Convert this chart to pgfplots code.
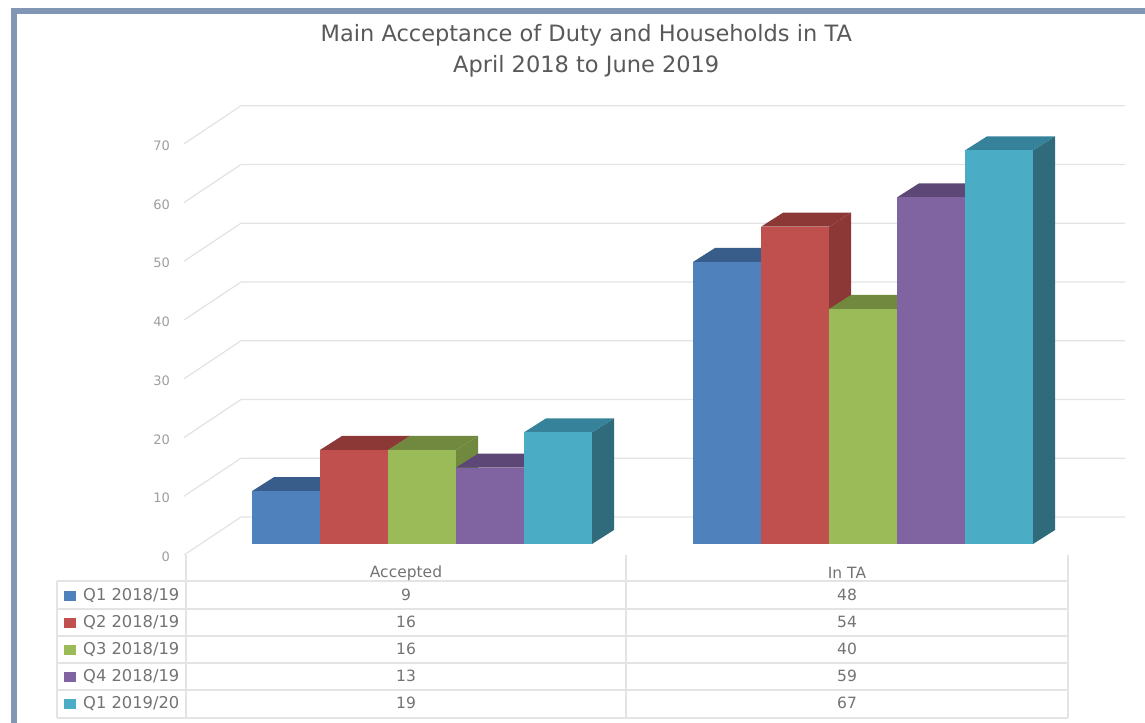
\documentclass[border=0pt]{standalone}
\usepackage{fontspec}
\setmainfont{DejaVu Sans}
\usepackage{pgfplots}
\pgfplotsset{compat=1.18}
\definecolor{cblue}{HTML}{4F81BD}\definecolor{cbluet}{HTML}{385D8A}
\definecolor{cred}{HTML}{C0504D}\definecolor{credt}{HTML}{8C3836}
\definecolor{cgreen}{HTML}{9BBB59}\definecolor{cgreent}{HTML}{71893F}
\definecolor{cpurple}{HTML}{8064A2}\definecolor{cpurplet}{HTML}{5C4776}
\definecolor{cteal}{HTML}{4BACC6}\definecolor{ctealt}{HTML}{35829A}\definecolor{cteals}{HTML}{2F6B7B}
\definecolor{gridc}{HTML}{E4E4E4}
\definecolor{framec}{HTML}{8096B4}
% x (left edge, px), value, front colour, top colour, side colour
\newcommand{\threedbar}[5]{%
  \pgfmathsetmacro\xr{#1+68}\pgfmathsetmacro\xbl{#1+22}\pgfmathsetmacro\xbr{#1+90}%
  \pgfmathsetmacro\yb{#2+2.383}%
  \addplot[draw=none,fill=#5] coordinates {(\xr,0) (\xbr,2.383) (\xbr,\yb) (\xr,#2)} -- cycle;
  \addplot[draw=none,fill=#4] coordinates {(#1,#2) (\xbl,\yb) (\xbr,\yb) (\xr,#2)} -- cycle;
  \addplot[draw=none,fill=#3] coordinates {(#1,0) (\xr,0) (\xr,#2) (#1,#2)} -- cycle;
}
\newcommand{\wallline}[1]{%
  \pgfmathsetmacro\yf{#1-1.87}\pgfmathsetmacro\yk{#1+4.6}%
  \addplot[gridc,line width=1.3pt] coordinates {(184,\yf) (241,\yk) (1125,\yk)};
}
\begin{document}
\begin{tikzpicture}
\begin{axis}[
  at={(0pt,0pt)},anchor=south west,
  scale only axis,width=1145pt,height=723pt,
  xmin=0,xmax=1145,ymin=-30.468,ymax=92.596,
  clip=false,axis line style={draw=none},
  xtick=\empty,ytick=\empty,
  title={Main Acceptance of Duty and Households in TA\\April 2018 to June 2019},
  title style={at={(0.512,0.9588)},anchor=north,align=center,inner sep=0pt,
    font=\fontsize{22.5}{31}\selectfont,text=black!65},
]
\wallline{0}\wallline{10}\wallline{20}\wallline{30}\wallline{40}\wallline{50}\wallline{60}\wallline{70}
% Accepted
\threedbar{252}{9}{cblue}{cbluet}{cbluet}
\threedbar{320}{16}{cred}{credt}{credt}
\threedbar{388}{16}{cgreen}{cgreent}{cgreent}
\threedbar{456}{13}{cpurple}{cpurplet}{cpurplet}
\threedbar{524}{19}{cteal}{ctealt}{cteals}
% In TA
\threedbar{693}{48}{cblue}{cbluet}{cbluet}
\threedbar{761}{54}{cred}{credt}{credt}
\threedbar{829}{40}{cgreen}{cgreent}{cgreent}
\threedbar{897}{59}{cpurple}{cpurplet}{cpurplet}
\threedbar{965}{67}{cteal}{ctealt}{cteals}
\end{axis}
% value axis labels
\begin{axis}[
  at={(170pt,0pt)},anchor=south west,
  scale only axis,width=975pt,height=723pt,
  xmin=0,xmax=1,ymin=-28.26,ymax=94.81,
  axis line style={draw=none},
  xtick=\empty,ytick={0,10,...,70},
  major tick length=0pt,tick style={draw=none},
  yticklabel style={font=\fontsize{13}{15}\selectfont,text=black!38,inner sep=0pt,outer sep=0pt},
  /pgf/number format/assume math mode=true,
]
\end{axis}
\begin{scope}[x=1pt,y=-1pt,yshift=723pt]
  % frame
  \fill[framec] (11,8) rectangle (1145,14);
  \fill[framec] (11,8) rectangle (17,723);
  % table
  \foreach \y in {581,609,636,663,690,718}
    \draw[gridc,line width=1.3pt] (57,\y) -- (1068,\y);
  \draw[gridc,line width=1.3pt] (57,581) -- (57,718);
  \foreach \x in {186,626,1068}
    \draw[gridc,line width=1.3pt] (\x,555) -- (\x,718);
  \tikzset{tt/.style={font=\fontsize{15.5}{17}\selectfont,text=black!55,inner sep=0pt,anchor=center},
           ll/.style={font=\fontsize{16.3}{18}\selectfont,text=black!55,inner sep=0pt,anchor=west}}
  \node[tt] at (406,573) {Accepted};
  \node[tt] at (847,573) {In TA};
  \node[ll] at (64,596) {\textcolor{cblue}{\rule{12pt}{10pt}}\hspace{7pt}Q1 2018/19};
  \node[ll] at (64,623) {\textcolor{cred}{\rule{12pt}{10pt}}\hspace{7pt}Q2 2018/19};
  \node[ll] at (64,650) {\textcolor{cgreen}{\rule{12pt}{10pt}}\hspace{7pt}Q3 2018/19};
  \node[ll] at (64,677) {\textcolor{cpurple}{\rule{12pt}{10pt}}\hspace{7pt}Q4 2018/19};
  \node[ll] at (64,704) {\textcolor{cteal}{\rule{12pt}{10pt}}\hspace{7pt}Q1 2019/20};
  \foreach \y/\a/\b in {595/9/48,622/16/54,649/16/40,676/13/59,703/19/67}{
    \node[tt] at (406,\y) {\a};
    \node[tt] at (847,\y) {\b};
  }
\end{scope}
\end{tikzpicture}
\end{document}
